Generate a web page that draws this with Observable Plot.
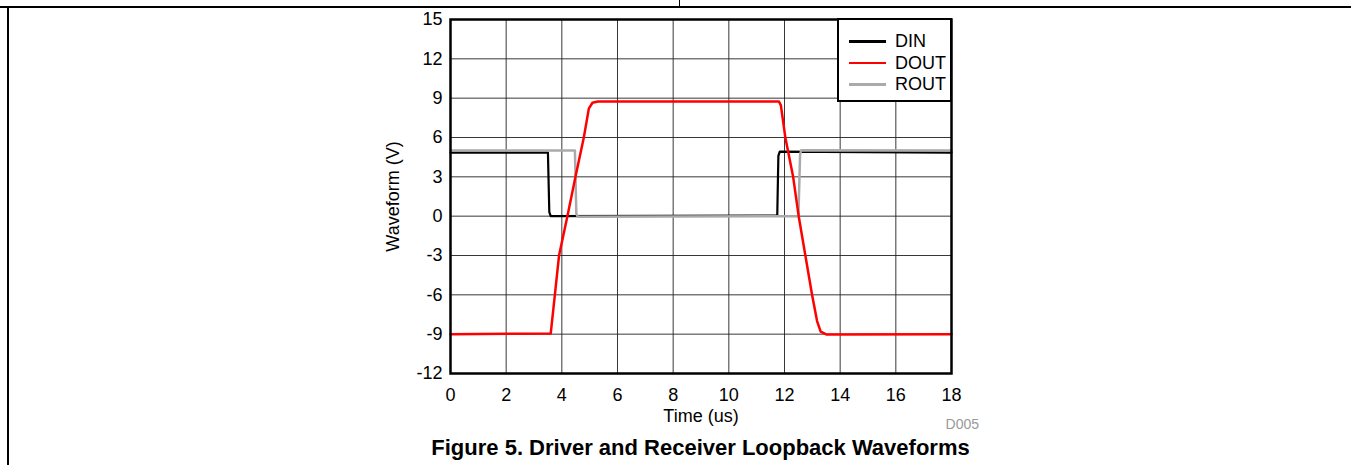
<!DOCTYPE html>
<html>
<head>
<meta charset="utf-8">
<script src="https://cdn.jsdelivr.net/npm/d3@7"></script>
<script src="https://cdn.jsdelivr.net/npm/@observablehq/plot@0.6"></script>
<style>
  body { margin: 0; background: #fff; font-family: "Liberation Sans", Arial, sans-serif; }
  #wrap { position: relative; width: 1351px; height: 465px; overflow: hidden; background: #fff; }
  #chart { position: absolute; left: 0; top: 0; }
  .rule { position: absolute; background: #000; }
  #legend { position: absolute; left: 837px; top: 18px; width: 111px; height: 80px; border: 2px solid #000; background: #fff; }
  #legend .item { position: absolute; left: 10px; height: 20px; }
  #legend .sw { position: absolute; left: 0; top: 9px; width: 37px; height: 2.5px; }
  #legend .lab { position: absolute; left: 46px; top: 0; font-size: 18px; line-height: 20px; color: #000; white-space: nowrap; }
  #code { position: absolute; right: 372px; top: 416px; font-size: 14px; color: #999; }
  #caption { position: absolute; left: 0; width: 1401px; top: 435px; text-align: center; font-size: 22px; font-weight: bold; color: #000; }
</style>
</head>
<body>
<div id="wrap">
  <div class="rule" style="left:0;top:6px;width:1351px;height:2px;"></div>
  <div class="rule" style="left:7px;top:6px;width:2px;height:459px;"></div>
  <div class="rule" style="left:679px;top:0;width:1px;height:7px;"></div>
  <div id="chart"></div>
  <div id="legend"></div>
  <div id="code">D005</div>
  <div id="caption">Figure 5. Driver and Receiver Loopback Waveforms</div>
</div>
<script>
// ---- data ----
const xTicks = [0, 2, 4, 6, 8, 10, 12, 14, 16, 18];
const yTicks = [-12, -9, -6, -3, 0, 3, 6, 9, 12, 15];
const seriesNames = ["DIN", "DOUT", "ROUT"];
const seriesColors = ["#000000", "#ff0000", "#aaaaaa"];

const dinTime  = [0, 3.50, 3.55, 3.60, 11.74, 11.78, 11.83, 18];
const dinValue = [4.85, 4.85, 0.3, 0.0, 0.05, 4.6, 4.92, 4.85];

const doutTime  = [0, 3.60, 3.75, 3.90, 4.20, 4.49, 4.79, 4.97, 5.10, 5.30, 11.80, 11.87, 12.03, 12.31, 12.51, 12.75, 12.99, 13.17, 13.30, 13.50, 18];
const doutValue = [-9.0, -8.95, -6, -3, 0, 3, 6, 8.2, 8.65, 8.75, 8.75, 8.45, 6, 3, 0, -3, -6, -8, -8.8, -9.02, -9.0];

const routTime  = [0, 4.47, 4.52, 4.57, 12.50, 12.56, 12.60, 18];
const routValue = [5.0, 5.0, 0.2, -0.05, 0.0, 4.7, 5.02, 5.0];

const toRows = (ts, vs) => ts.map((t, i) => ({t, v: vs[i]}));
const din = toRows(dinTime, dinValue);
const dout = toRows(doutTime, doutValue);
const rout = toRows(routTime, routValue);

const font = '"Liberation Sans", Arial, sans-serif';

const chart = Plot.plot({
  width: 1351,
  height: 430,
  marginLeft: 450,
  marginRight: 400,
  marginTop: 19,
  marginBottom: 57,
  style: { fontFamily: font, fontSize: "18px", color: "#000", background: "transparent", overflow: "visible" },
  x: { domain: [0, 18] },
  y: { domain: [-12, 15] },
  marks: [
    Plot.gridX(xTicks, { stroke: "#222", strokeOpacity: 0.9, strokeWidth: 1 }),
    Plot.gridY(yTicks, { stroke: "#222", strokeOpacity: 0.9, strokeWidth: 1 }),
    Plot.line(din, { x: "t", y: "v", stroke: seriesColors[0], strokeWidth: 2.2 }),
    Plot.line(rout, { x: "t", y: "v", stroke: seriesColors[2], strokeWidth: 2.5 }),
    Plot.line(dout, { x: "t", y: "v", stroke: seriesColors[1], strokeWidth: 2.5 }),
    Plot.axisX({ ticks: xTicks, tickFormat: d => String(d), tickSize: 0, tickPadding: 15, label: "Time (us)", labelAnchor: "center", labelArrow: "none", labelOffset: 48 }),
    Plot.axisY({ ticks: yTicks, tickFormat: d => String(d), tickSize: 0, tickPadding: 8, label: "Waveform (V)", labelAnchor: "center", labelArrow: "none", labelOffset: 64 }),
    Plot.frame({ stroke: "#000", strokeWidth: 2.5 })
  ]
});
document.getElementById("chart").appendChild(chart);

// legend
const legend = document.getElementById("legend");
seriesNames.forEach((name, i) => {
  const item = document.createElement("div");
  item.className = "item";
  item.style.top = (11 + i * 21.5) + "px";
  const sw = document.createElement("div");
  sw.className = "sw";
  sw.style.background = seriesColors[i];
  const lab = document.createElement("div");
  lab.className = "lab";
  lab.textContent = name;
  item.appendChild(sw);
  item.appendChild(lab);
  legend.appendChild(item);
});
</script>
</body>
</html>
